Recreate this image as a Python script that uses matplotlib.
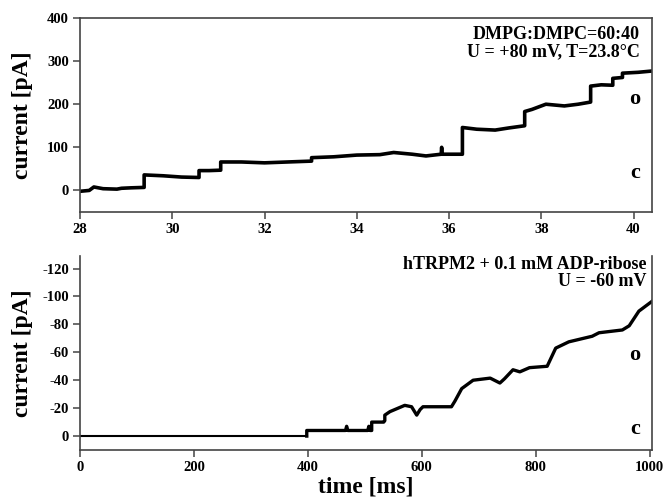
import matplotlib
matplotlib.use("Agg")
import matplotlib.pyplot as plt

plt.rcParams['font.family'] = ['Liberation Serif', 'DejaVu Serif']
plt.rcParams['font.weight'] = 'bold'

# ---- top trace (time in ms, current in pA) ----
top_t = [28.0, 28.2, 28.3, 28.5, 28.8, 28.9, 29.1, 29.39, 29.39, 29.8, 30.2, 30.58, 30.58,
         30.8, 31.05, 31.05, 31.5, 32.0, 32.5, 33.02, 33.02, 33.5, 34.0, 34.5, 34.8, 35.2,
         35.5, 35.83, 35.84, 35.85, 36.29, 36.29, 36.6, 37.0, 37.3, 37.64, 37.64, 37.8, 38.1,
         38.5, 38.8, 39.07, 39.07, 39.3, 39.55, 39.55, 39.76, 39.76, 40.1, 40.4]
top_i = [-2, 0, 8, 4, 3, 5, 6, 7, 36, 34, 31, 30, 46, 46, 47, 66, 66, 64, 66, 68, 76,
         78, 82, 83, 88, 84, 80, 84, 100, 84, 84, 146, 142, 140, 145, 150, 183, 188, 200,
         196, 200, 205, 242, 245, 244, 260, 262, 272, 274, 277]

# ---- bottom trace (time in ms, current in pA) ----
base_t = [0, 100, 200, 300, 398]
base_i = [0, 0, 0, 0, 0]
bot_t = [398, 398, 466, 468, 470, 505, 507, 509, 512, 512, 533, 535, 535, 544, 570, 582,
         591, 597, 602, 652, 658, 670, 690, 720, 737, 745, 760, 772, 789, 820, 835, 858,
         899, 911, 952, 964, 981, 1004]
bot_i = [0, -4, -4, -7, -4, -4, -7, -4, -4, -10, -10, -11, -15, -17.5, -22, -21, -15,
         -19, -21, -21, -25, -34, -40, -41.5, -38, -41, -47.5, -46, -49, -50, -63, -67.5,
         -71.5, -74, -76, -79, -89.5, -96.5]

top_xticks = [28, 30, 32, 34, 36, 38, 40]
top_yticks = [0, 100, 200, 300, 400]
bot_xticks = [0, 200, 400, 600, 800, 1000]
bot_yticks = [0, -20, -40, -60, -80, -100, -120]

fig = plt.figure(figsize=(6.63, 5.04), dpi=100)
ax1 = fig.add_axes([0.1207, 0.5794, 0.8627, 0.3849])
ax2 = fig.add_axes([0.1207, 0.1071, 0.8627, 0.3850])

spine_col = '#444444'
for ax in (ax1, ax2):
    for s in ax.spines.values():
        s.set_color(spine_col)
        s.set_linewidth(1.2)
    ax.tick_params(direction='out', length=5, width=1.1, color=spine_col,
                   labelsize=10.5, pad=3)

ax1.plot(top_t, top_i, color='black', lw=2.6)
ax1.set_xlim(28, 40.4)
ax1.set_ylim(-50, 400)
ax1.set_xticks(top_xticks)
ax1.set_yticks(top_yticks)
ax1.set_xticklabels([str(v) for v in top_xticks], fontweight='bold')
ax1.set_yticklabels([str(v) for v in top_yticks], fontweight='bold')
ax1.set_ylabel('current [pA]', fontsize=17, fontweight='bold')
ax1.yaxis.set_label_coords(-0.082, 0.5)
ax1.text(0.979, 0.96, 'DMPG:DMPC=60:40\nU = +80 mV, T=23.8°C', transform=ax1.transAxes,
         ha='right', va='top', fontsize=13, fontweight='bold', linespacing=1.0)
ax1.text(0.97, 0.58, 'o', transform=ax1.transAxes, ha='center', va='center',
         fontsize=16, fontweight='bold')
ax1.text(0.97, 0.20, 'c', transform=ax1.transAxes, ha='center', va='center',
         fontsize=16, fontweight='bold')

ax2.plot(base_t, base_i, color='black', lw=1.5)
ax2.plot(bot_t, bot_i, color='black', lw=2.4)
ax2.set_xlim(0, 1004)
ax2.set_ylim(10, -129)
ax2.set_xticks(bot_xticks)
ax2.set_yticks(bot_yticks)
ax2.set_xticklabels([str(v) for v in bot_xticks], fontweight='bold')
ax2.set_yticklabels([str(v) for v in bot_yticks], fontweight='bold')
ax2.spines['top'].set_visible(False)
ax2.set_ylabel('current [pA]', fontsize=17, fontweight='bold')
ax2.yaxis.set_label_coords(-0.082, 0.5)
ax2.set_xlabel('time [ms]', fontsize=17, fontweight='bold', labelpad=2)
ax2.text(0.99, 1.0, 'hTRPM2 + 0.1 mM ADP-ribose\nU = -60 mV', transform=ax2.transAxes,
         ha='right', va='top', fontsize=13, fontweight='bold', linespacing=1.0)
ax2.text(0.97, 0.49, 'o', transform=ax2.transAxes, ha='center', va='center',
         fontsize=16, fontweight='bold')
ax2.text(0.97, 0.11, 'c', transform=ax2.transAxes, ha='center', va='center',
         fontsize=16, fontweight='bold')

fig.savefig('out.png', dpi=100)
